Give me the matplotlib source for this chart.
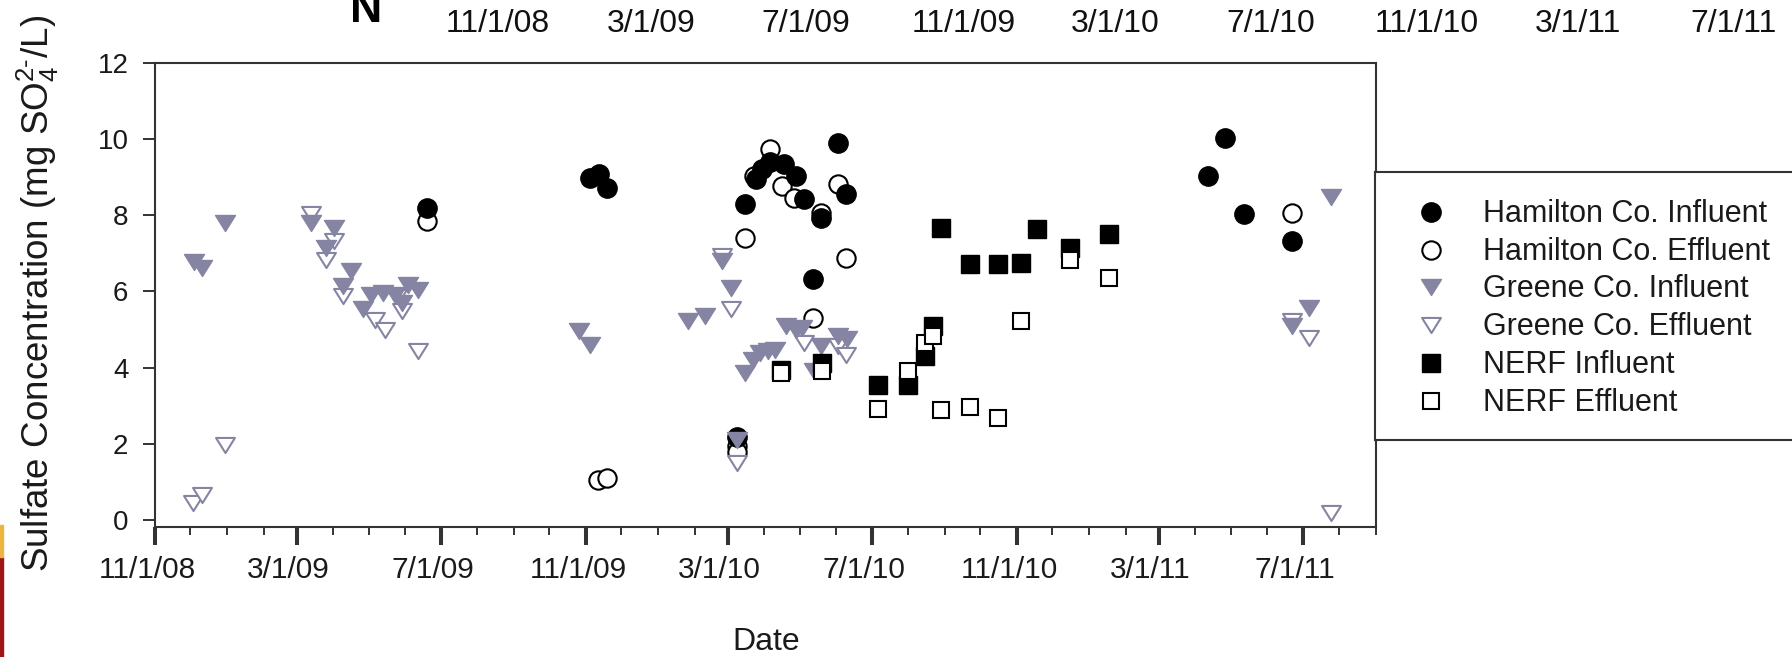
import matplotlib
matplotlib.use("Agg")
import matplotlib.pyplot as plt
import matplotlib.dates as mdates
from matplotlib.patches import Rectangle
from matplotlib.path import Path
from matplotlib.transforms import ScaledTranslation
import numpy as np

plt.rcParams['font.family'] = ['Liberation Sans', 'DejaVu Sans']
plt.rcParams['mathtext.fontset'] = 'custom'
plt.rcParams['mathtext.rm'] = 'Liberation Sans'
plt.rcParams['mathtext.it'] = 'Liberation Sans:italic'

# ---- data ----
ham_in_dates = ["2009-06-19", "2009-11-04", "2009-11-12", "2009-11-19", "2010-03-09",
                "2010-03-16", "2010-03-25", "2010-03-30", "2010-04-06", "2010-04-18",
                "2010-04-28", "2010-05-05", "2010-05-12", "2010-05-19", "2010-06-02",
                "2010-06-09", "2011-04-12", "2011-04-26", "2011-05-12", "2011-06-22"]
ham_in_vals = [8.2, 8.99, 9.08, 8.73, 2.19, 8.29, 8.95, 9.21, 9.39, 9.35,
               9.04, 8.42, 6.32, 7.94, 9.91, 8.55, 9.04, 10.03, 8.03, 7.32]

ham_eff_dates = ["2009-06-19", "2009-11-11", "2009-11-19", "2010-03-09", "2010-03-09",
                 "2010-03-16", "2010-03-23", "2010-04-06", "2010-04-16", "2010-04-26",
                 "2010-05-12", "2010-05-19", "2010-06-02", "2010-06-09", "2011-06-22"]
ham_eff_vals = [7.85, 1.05, 1.1, 1.93, 1.78, 7.41, 9.04, 9.74, 8.77, 8.46,
                5.31, 8.07, 8.82, 6.89, 8.07]

gre_in_dates = ["2008-12-04", "2008-12-11", "2008-12-30", "2009-03-13", "2009-03-26",
                "2009-04-02", "2009-04-09", "2009-04-16", "2009-04-26", "2009-05-03",
                "2009-05-13", "2009-05-23", "2009-05-29", "2009-06-03", "2009-06-12",
                "2009-10-26", "2009-11-04", "2010-01-26", "2010-02-10", "2010-02-24",
                "2010-03-04", "2010-03-09", "2010-03-16", "2010-03-22", "2010-03-28",
                "2010-04-04", "2010-04-10", "2010-04-19", "2010-04-28", "2010-05-03",
                "2010-05-13", "2010-05-19", "2010-06-02", "2010-06-10", "2011-06-22",
                "2011-07-06", "2011-07-25"]
gre_in_vals = [6.78, 6.62, 7.81, 7.81, 7.15, 7.68, 6.14, 6.53, 5.53, 5.92,
               5.96, 5.92, 5.7, 6.18, 6.05, 4.96, 4.6, 5.22, 5.35, 6.8,
               6.1, 2.1, 3.86, 4.21, 4.39, 4.43, 4.47, 5.09, 5.0, 5.04,
               3.9, 4.56, 4.82, 4.74, 5.09, 5.57, 8.47]

gre_eff_dates = ["2008-12-03", "2008-12-11", "2008-12-30", "2009-03-13", "2009-03-26",
                 "2009-04-02", "2009-04-09", "2009-05-06", "2009-05-15", "2009-05-25",
                 "2009-05-29", "2009-06-12", "2010-02-24", "2010-03-04", "2010-03-09",
                 "2010-05-05", "2010-06-02", "2010-06-09", "2011-06-22", "2011-07-06",
                 "2011-07-25"]
gre_eff_vals = [0.44, 0.66, 1.97, 8.03, 6.84, 7.32, 5.88, 5.26, 5.0, 5.86,
                5.5, 4.43, 6.93, 5.53, 1.49, 4.65, 4.56, 4.34, 5.22, 4.78,
                0.18]

nerf_in_dates = ["2010-04-15", "2010-05-20", "2010-07-06", "2010-08-01", "2010-08-15",
                 "2010-08-22", "2010-08-29", "2010-09-22", "2010-10-16", "2010-11-04",
                 "2010-11-18", "2010-12-16", "2011-01-18"]
nerf_in_vals = [3.95, 4.12, 3.55, 3.55, 4.3, 5.09, 7.68, 6.71, 6.71, 6.75,
                7.63, 7.15, 7.5]

nerf_eff_dates = ["2010-04-15", "2010-05-20", "2010-07-06", "2010-08-01", "2010-08-15",
                  "2010-08-22", "2010-08-29", "2010-09-22", "2010-10-16", "2010-11-04",
                  "2010-12-16", "2011-01-18"]
nerf_eff_vals = [3.85, 3.9, 2.91, 3.9, 4.65, 4.82, 2.89, 2.98, 2.68, 5.22,
                 6.84, 6.36]

labels = ["Hamilton Co. Influent", "Hamilton Co. Effluent", "Greene Co. Influent",
          "Greene Co. Effluent", "NERF Influent", "NERF Effluent"]

top_labels = ["11/1/08", "3/1/09", "7/1/09", "11/1/09", "3/1/10",
              "7/1/10", "11/1/10", "3/1/11", "7/1/11"]

GRAY = '#8585A3'
# downward triangle, a bit wider than tall (closed so the outline is complete)
tri = Path([(-1, 0.8), (1, 0.8), (0, -0.8), (-1, 0.8)],
           [Path.MOVETO, Path.LINETO, Path.LINETO, Path.CLOSEPOLY])

styles = {
    labels[0]: dict(marker='o', ms=13.9, mfc='black', mec='black', mew=1.0),
    labels[1]: dict(marker='o', ms=13.2, mfc='white', mec='black', mew=1.5),
    labels[2]: dict(marker=tri, ms=14.4, mfc=GRAY, mec=GRAY, mew=1.0),
    labels[3]: dict(marker=tri, ms=13.6, mfc='white', mec=GRAY, mew=1.5),
    labels[4]: dict(marker='s', ms=12.6, mfc='black', mec='black', mew=1.0),
    labels[5]: dict(marker='s', ms=11.8, mfc='white', mec='black', mew=1.5),
}

series = [
    (labels[1], ham_eff_dates, ham_eff_vals),
    (labels[0], ham_in_dates, ham_in_vals),
    (labels[3], gre_eff_dates, gre_eff_vals),
    (labels[2], gre_in_dates, gre_in_vals),
    (labels[4], nerf_in_dates, nerf_in_vals),
    (labels[5], nerf_eff_dates, nerf_eff_vals),
]

W, H = 1792, 657
fig = plt.figure(figsize=(W / 100, H / 100), dpi=100)
fig.patch.set_facecolor('white')

ax = fig.add_axes([155 / W, 130 / H, 1221 / W, 464 / H])
for name, d, v in series:
    ax.plot(np.array(d, dtype='datetime64[D]'), v, linestyle='none', **styles[name])

ax.set_xlim(np.datetime64('2008-11-01'), np.datetime64('2011-09-01'))
ax.set_ylim(-0.184, 12)
ax.set_yticks(np.arange(0, 13, 2))
ax.xaxis.set_major_locator(mdates.MonthLocator(bymonth=[3, 7, 11]))
ax.xaxis.set_minor_locator(mdates.MonthLocator())
ax.xaxis.set_major_formatter(plt.FuncFormatter(
    lambda x, p: "{0.month}/{0.day}/{0:%y}".format(mdates.num2date(x))))

AXC = '#333333'
for s in ax.spines.values():
    s.set_linewidth(1.5)
    s.set_color(AXC)
ax.tick_params(axis='x', which='major', direction='out', length=13, width=2.9,
               color=AXC, labelsize=21.5, pad=8, labelcolor='#1a1a1a')
ax.tick_params(axis='x', which='minor', direction='out', length=5.8, width=1.4, color=AXC)
ax.tick_params(axis='y', which='major', direction='out', length=8.6, width=1.4,
               color=AXC, labelsize=20, pad=10.5, labelcolor='#1a1a1a')
shift = ScaledTranslation(-8 / 100, 0, fig.dpi_scale_trans)
for lab in ax.get_xticklabels():
    lab.set_transform(lab.get_transform() + shift)

fig.text(766 / W, (H - 650) / H, "Date", fontsize=23, ha='center', va='baseline',
         color='#1a1a1a')
fig.text(38 / W, (H - 293) / H, r"Sulfate Concentration (mg SO$_4^{2\text{-}}$/L)",
         fontsize=26.5, rotation=90, ha='center', va='center', color='#1a1a1a')

# legend box, sitting against the right spine and running off the page
lax = fig.add_axes([1375 / W, (H - 440) / H, 430 / W, 268 / H])
lax.set_xlim(0, 430)
lax.set_ylim(268, 0)
lax.set_xticks([])
lax.set_yticks([])
for s in lax.spines.values():
    s.set_linewidth(1.5)
    s.set_color(AXC)
for i, name in enumerate(labels):
    y = 39.7 + i * 37.8
    lax.plot([56], [y], linestyle='none', clip_on=False, **styles[name])
    lax.text(108, y + 10, name, fontsize=22, va='baseline', ha='left', color='#1a1a1a')

# leftovers of the page above the figure (the "N" is cut by the top edge, as in the source)
fig.text(366 / W, (H - 22) / H, "N", fontsize=32, weight='bold', ha='center', va='baseline')
top_x = [498, 651, 806, 964, 1115, 1271, 1427, 1578, 1734]
for x, t in zip(top_x, top_labels):
    fig.text(x / W, (H - 32) / H, t, fontsize=23, ha='center', va='baseline', color='#111111')

# coloured sliver at the left edge
fig.patches.append(Rectangle((0, 0), 2.5 / W, 100 / H, transform=fig.transFigure,
                             color='#A01515', zorder=5))
fig.patches.append(Rectangle((0, 100 / H), 2.5 / W, 32 / H, transform=fig.transFigure,
                             color='#EDB440', zorder=5))

fig.savefig("out.png", dpi=100)
